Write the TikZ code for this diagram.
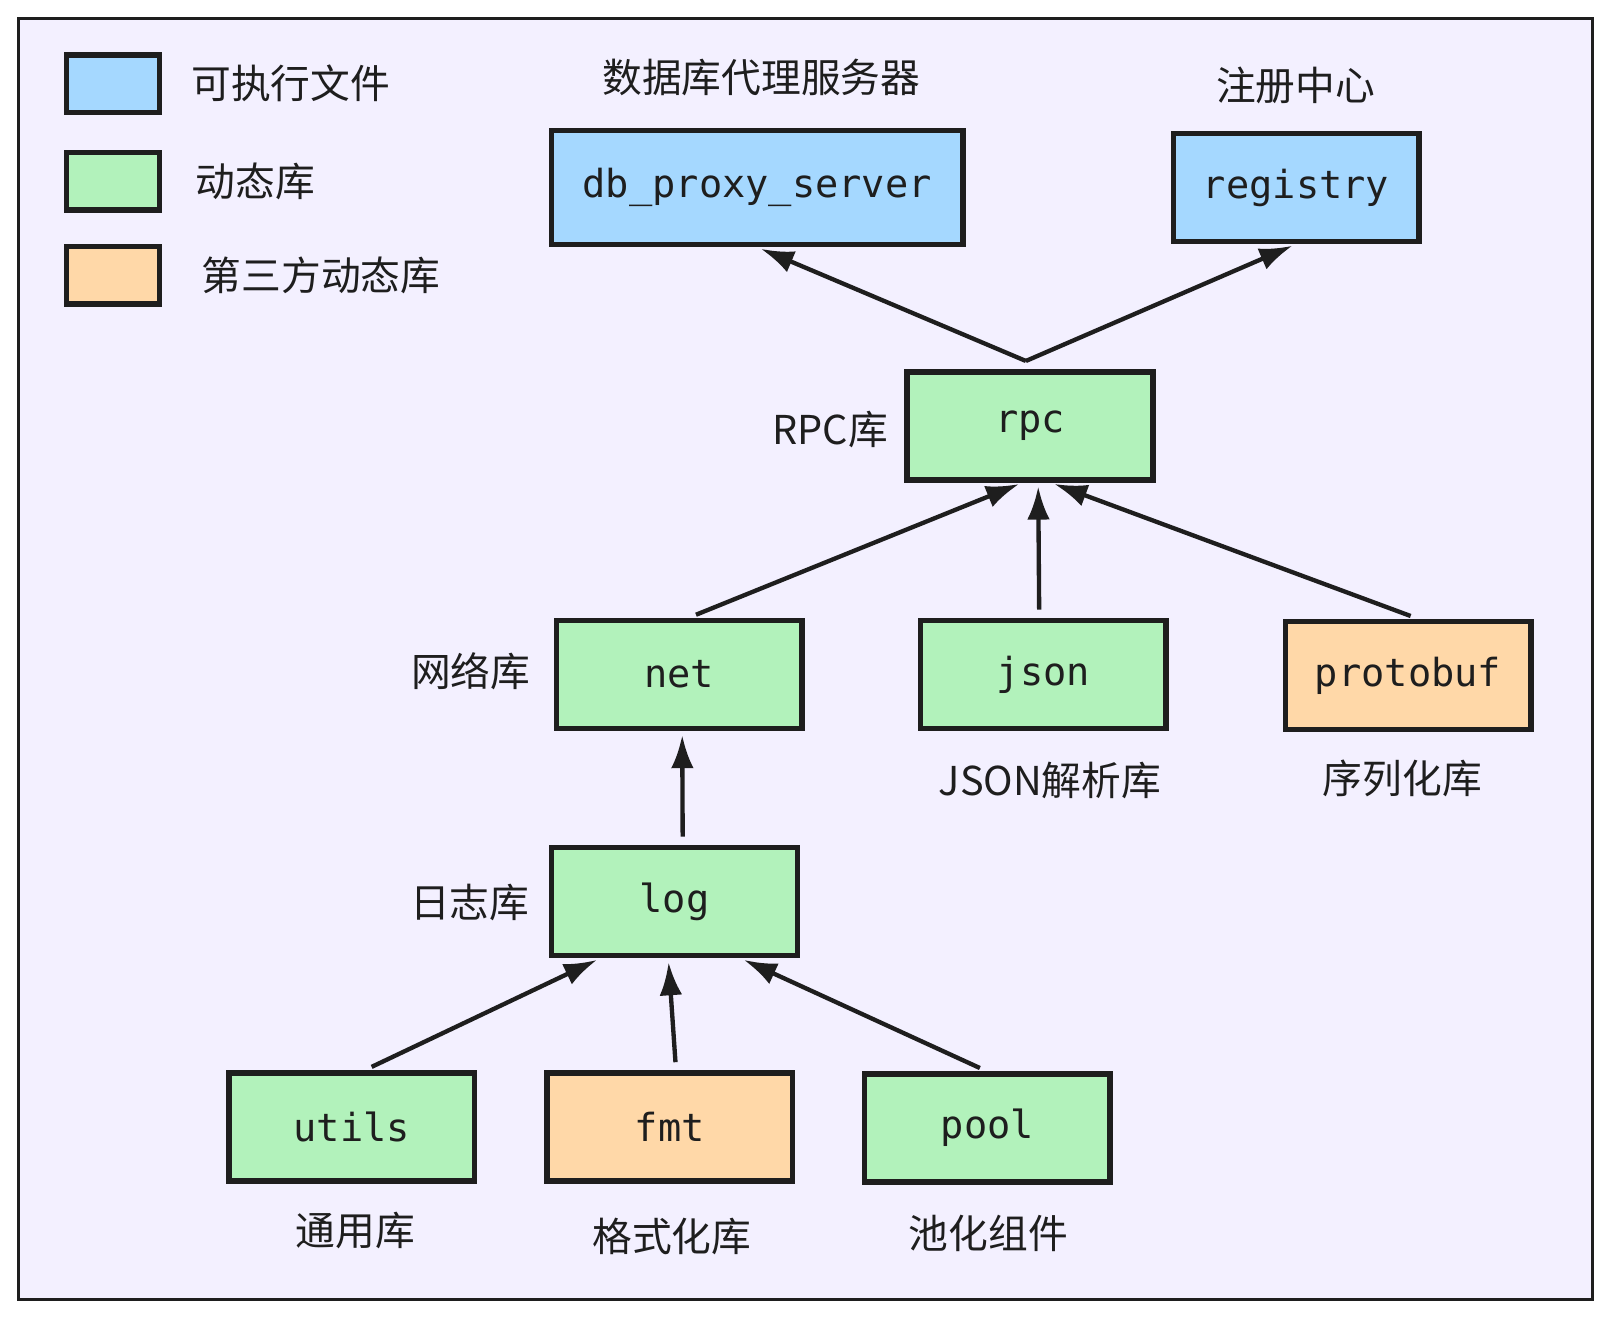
\documentclass[tikz,border=0pt]{standalone}
\usepackage{fontspec}
\setmainfont{Noto Sans CJK SC}
\newfontfamily\codefont{DejaVu Sans Mono}
\usepackage{tikz}
\usetikzlibrary{arrows.meta,calc,positioning}
\definecolor{ink}{HTML}{1E1E1E}
\definecolor{exeblue}{HTML}{A5D8FF}
\definecolor{libgreen}{HTML}{B2F2BB}
\definecolor{extorange}{HTML}{FFD8A8}
\definecolor{canvas}{HTML}{F3F0FF}
\tikzset{>={Latex[length=0.32cm,width=0.22cm]}}
\tikzset{
  box/.style={draw=ink,line width=1.5pt,inner sep=0pt,minimum width=2.39cm,minimum height=1.05cm,
    text=ink,font=\codefont\fontsize{10.7}{13}\selectfont},
  key/.style={draw=ink,line width=1.5pt,inner sep=0pt,minimum width=0.9cm,minimum height=0.56cm},
  note/.style={inner sep=0pt,text=ink,font=\fontsize{11}{13}\selectfont},
  dep/.style={->,draw=ink,line width=1.2pt,shorten <=0.08cm,shorten >=0.04cm}
}

\begin{document}
\begin{tikzpicture}[x=0.01cm,y=-0.01cm]
        \useasboundingbox (0,0) rectangle (1568,1284);
        \draw[ink,line width=0.9pt,fill=canvas] (18,18) rectangle (1550,1265);
        % legend
        \node[key,fill=exeblue] (keyexe) at (110,81.5) {};
        \node[key,fill=libgreen] (keylib) at (110,176.5) {};
        \node[key,fill=extorange] (keyext) at (110,268) {};
        \node[note,right=0.28cm of keyexe] (keyexetxt) {可执行文件};
        \node[note,right=0.32cm of keylib] (keylibtxt) {动态库};
        \node[note,right=0.38cm of keyext] (keyexttxt) {第三方动态库};
        % boxes
        \node[box,fill=exeblue,minimum width=4cm,minimum height=1.11cm] (db) at (737,182.5) {db\_proxy\_server};
        \node[box,fill=exeblue] (reg) at (1261.5,182.5) {registry};
        \node[box,fill=libgreen] (rpc) at (1002.5,414.5) {rpc};
        \node[box,fill=libgreen] (net) at (661,656.5) {net};
        \node[box,fill=libgreen] (json) at (1015.5,656.5) {json};
        \node[box,fill=extorange] (proto) at (1370.5,657.5) {protobuf};
        \node[box,fill=libgreen] (log) at (656.5,877.5) {log};
        \node[box,fill=libgreen] (utils) at (342.5,1097) {utils};
        \node[box,fill=extorange] (fmt) at (652,1097) {fmt};
        \node[box,fill=libgreen] (pool) at (961,1098) {pool};
        % captions
        \node[note] (dbtxt) at (741,75) {数据库代理服务器};
        \node[note] (regtxt) at (1261,83) {注册中心};
        \node[note,anchor=east] (rpctxt) at (865,418) {RPC库};
        \node[note,anchor=east] (nettxt) at (517,653) {网络库};
        \node[note] (jsontxt) at (1022,760) {JSON解析库};
        \node[note] (prototxt) at (1365,758) {序列化库};
        \node[note,anchor=east] (logtxt) at (516,878) {日志库};
        \node[note] (utilstxt) at (346,1198) {通用库};
        \node[note] (fmttxt) at (654,1203) {格式化库};
        \node[note] (pooltxt) at (962,1200) {池化组件};
        % dependencies
        \coordinate (fork) at ($(rpc.north)+(-4,-8)$);
        \draw[dep,shorten <=0pt] (fork) -- (db.south);
        \draw[dep,shorten <=0pt] (fork) -- (reg.south);
        \draw[dep] ($(net.north)+(9,0)$) -- ($(rpc.south)+(-7,0)$);
        \draw[dep] ($(json.north)+(-4,0)$) -- ($(rpc.south)+(8,0)$);
        \draw[dep] ($(proto.north)+(10,0)$) -- ($(rpc.south)+(20,0)$);
        \draw[dep] ($(log.north)+(8,0)$) -- ($(net.south)+(3,0)$);
        \draw[dep] ($(utils.north)+(12,0)$) -- ($(log.south)+(-72,0)$);
        \draw[dep] ($(fmt.north)+(6,0)$) -- ($(log.south)+(-6,0)$);
        \draw[dep] (pool.north) -- ($(log.south)+(64,0)$);
\end{tikzpicture}
\end{document}
